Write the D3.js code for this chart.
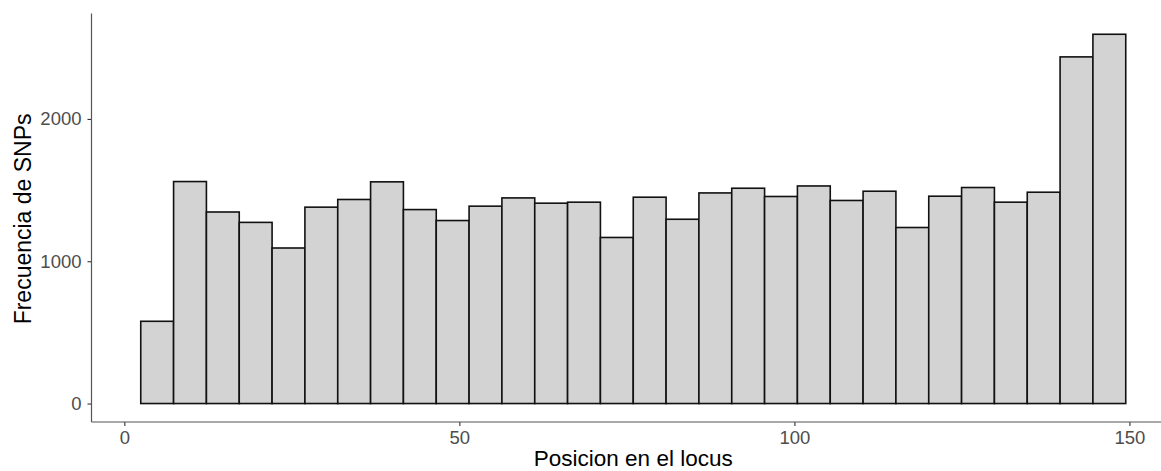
<!DOCTYPE html>
<html>
<head>
<meta charset="utf-8">
<script src="https://cdn.jsdelivr.net/npm/d3@7"></script>
<style>
  html, body { margin: 0; padding: 0; background: #fff; }
  svg { display: block; }
  text { font-family: "Liberation Sans", Arial, Helvetica, sans-serif; }
</style>
</head>
<body>
<svg id="chart" width="1161" height="471"></svg>
<script>
// Histogram of SNP positions along the locus (30 bins)
const binCounts = [578, 1560, 1346, 1273, 1093, 1380, 1434, 1558, 1363, 1286,
                   1387, 1445, 1408, 1415, 1167, 1450, 1295, 1480, 1513, 1455,
                   1529, 1427, 1492, 1237, 1457, 1518, 1415, 1485, 2436, 2595];
const positionRange = [4.9, 147];   // smallest and largest SNP position
const xTicks = [0, 50, 100, 150];
const yTicks = [0, 1000, 2000];
const xTitle = "Posicion en el locus";
const yTitle = "Frecuencia de SNPs";

const W = 1161, H = 471;
const svg = d3.select("#chart");

// Bins centred on the range ends, width = range / (bins - 1)
const nBins = binCounts.length;
const binWidth = (positionRange[1] - positionRange[0]) / (nBins - 1);
const bins = binCounts.map((c, i) => {
  const x0 = positionRange[0] - binWidth / 2 + i * binWidth;
  return { x0, x1: x0 + binWidth, count: c };
});

// Scales with 5% padding on each side of the data
const xLo = bins[0].x0, xHi = bins[nBins - 1].x1;
const xPad = (xHi - xLo) * 0.05;
const yMax = d3.max(binCounts);
const yPad = yMax * 0.05;

const panel = { left: 91.5, right: 1175, top: 15.8, bottom: 422 };

const x = d3.scaleLinear()
  .domain([xLo - xPad, xHi + xPad])
  .range([panel.left, panel.right]);
const y = d3.scaleLinear()
  .domain([-yPad, yMax + yPad])
  .range([panel.bottom, panel.top]);

// Bars
svg.append("g")
  .selectAll("rect")
  .data(bins)
  .join("rect")
  .attr("x", d => x(d.x0))
  .attr("y", d => y(d.count))
  .attr("width", d => x(d.x1) - x(d.x0))
  .attr("height", d => y(0) - y(d.count))
  .attr("fill", "#d3d3d3")
  .attr("stroke", "#111")
  .attr("stroke-width", 1.6);

// X axis
const xAxis = svg.append("g")
  .attr("transform", `translate(0,${panel.bottom})`)
  .call(d3.axisBottom(x).tickValues(xTicks).tickSize(4).tickPadding(5).tickFormat(d3.format("d")));
xAxis.select(".domain").remove();
xAxis.append("line")
  .attr("x1", panel.left).attr("x2", W)
  .attr("y1", 0).attr("y2", 0)
  .attr("stroke", "#555").attr("stroke-width", 1.2);
xAxis.selectAll(".tick line").attr("stroke", "#333").attr("stroke-width", 1.1);
xAxis.selectAll(".tick text")
  .attr("fill", "#4d4d4d")
  .attr("font-size", 18.5);

// Y axis
const yAxis = svg.append("g")
  .attr("transform", `translate(${panel.left},0)`)
  .call(d3.axisLeft(y).tickValues(yTicks).tickSize(4).tickPadding(6).tickFormat(d3.format("d")));
yAxis.select(".domain").remove();
yAxis.append("line")
  .attr("x1", 0).attr("x2", 0)
  .attr("y1", 13.5).attr("y2", panel.bottom)
  .attr("stroke", "#555").attr("stroke-width", 1.2);
yAxis.selectAll(".tick line").attr("stroke", "#333").attr("stroke-width", 1.1);
yAxis.selectAll(".tick text")
  .attr("fill", "#4d4d4d")
  .attr("font-size", 18.5);

// Axis titles
svg.append("text")
  .attr("x", (panel.left + panel.right) / 2)
  .attr("y", 466)
  .attr("text-anchor", "middle")
  .attr("font-size", 22.5)
  .attr("fill", "#000")
  .text(xTitle);

svg.append("text")
  .attr("transform", `translate(30.5,${(panel.top + panel.bottom) / 2}) rotate(-90)`)
  .attr("text-anchor", "middle")
  .attr("font-size", 23)
  .attr("fill", "#000")
  .text(yTitle);
</script>
</body>
</html>
